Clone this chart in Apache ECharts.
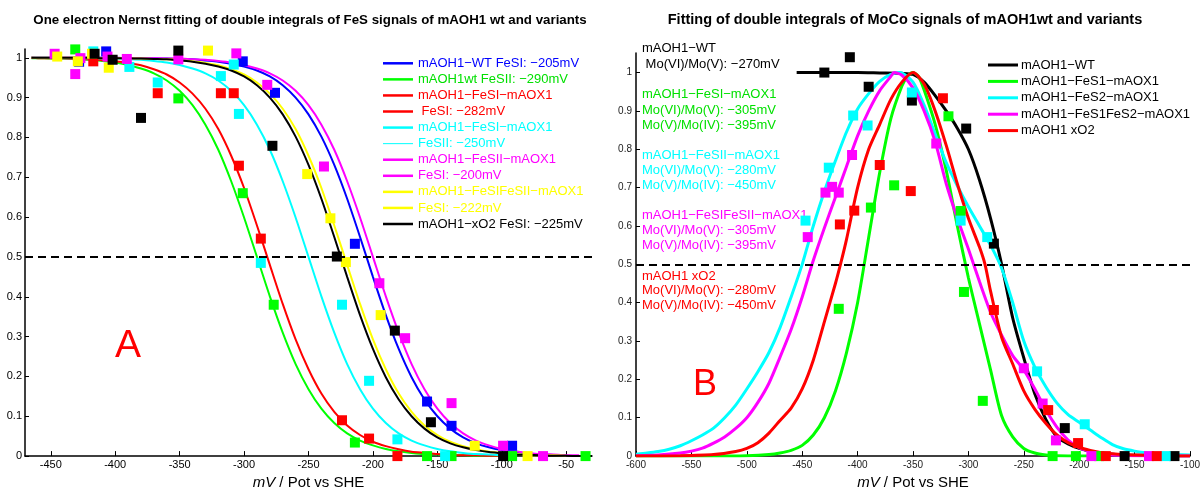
<!DOCTYPE html>
<html>
<head>
<meta charset="utf-8">
<script src="https://cdn.jsdelivr.net/npm/echarts@6/dist/echarts.min.js"></script>
<style>
  html, body { margin: 0; padding: 0; background: #fff; }
  #chart { width: 1203px; height: 495px; }
</style>
</head>
<body>
<div id="chart"></div>
<script>
// ---------- Panel A: FeS one-electron Nernst fits ----------
const fesPot = [-465, -460, -450, -440, -430, -420, -410, -400, -390, -380, -370, -360, -350, -340, -330,
  -320, -310, -300, -290, -280, -270, -260, -250, -240, -230, -220, -210, -200, -190, -180, -170, -160,
  -150, -140, -130, -120, -110, -100, -90, -80, -70, -60, -50, -40, -30];

const fesFitWT = [1, 1, 1, 1, 1, 1, 1, 1, 0.999, 0.999, 0.999, 0.998, 0.997, 0.996, 0.993, 0.990, 0.985,
  0.978, 0.968, 0.953, 0.931, 0.900, 0.858, 0.802, 0.731, 0.646, 0.550, 0.450, 0.354, 0.269, 0.198, 0.142,
  0.100, 0.069, 0.047, 0.032, 0.022, 0.015, 0.010, 0.007, 0.004, 0.003, 0.002];
const fesFitWtFeSII = [0.999, 0.999, 0.998, 0.998, 0.996, 0.995, 0.992, 0.988, 0.982, 0.973, 0.961, 0.943,
  0.917, 0.881, 0.832, 0.769, 0.690, 0.599, 0.500, 0.401, 0.310, 0.231, 0.168, 0.119, 0.083, 0.057, 0.039,
  0.027, 0.018, 0.012, 0.008, 0.005, 0.004, 0.002, 0.002, 0.001, 0.001, 0];
const fesFitFeSIAOX = [1, 0.999, 0.999, 0.998, 0.997, 0.996, 0.994, 0.991, 0.987, 0.981, 0.971, 0.958,
  0.938, 0.910, 0.872, 0.821, 0.754, 0.673, 0.579, 0.480, 0.382, 0.293, 0.218, 0.157, 0.111, 0.077, 0.053,
  0.036, 0.025, 0.017, 0.011, 0.008, 0.005, 0.003, 0.002, 0.002, 0.001, 0.001];
const fesFitFeSIIAOX = [1, 1, 1, 0.999, 0.999, 0.999, 0.998, 0.998, 0.996, 0.995, 0.992, 0.988, 0.982,
  0.973, 0.961, 0.943, 0.917, 0.881, 0.832, 0.769, 0.690, 0.599, 0.500, 0.401, 0.310, 0.231, 0.168, 0.119,
  0.083, 0.057, 0.039, 0.027, 0.018, 0.012, 0.008, 0.005, 0.004, 0.002, 0.002];
const fesFitFeSIIAOXm = [1, 1, 1, 1, 1, 1, 1, 1, 0.999, 0.999, 0.999, 0.998, 0.998, 0.996, 0.995, 0.992,
  0.988, 0.982, 0.973, 0.961, 0.943, 0.917, 0.881, 0.832, 0.769, 0.690, 0.599, 0.500, 0.401, 0.310, 0.231,
  0.168, 0.119, 0.083, 0.057, 0.039, 0.027, 0.018, 0.012, 0.008, 0.005, 0.004, 0.002, 0.002];
const fesFitFeSIFeSII = [1, 1, 1, 1, 1, 1, 0.999, 0.999, 0.999, 0.998, 0.997, 0.996, 0.994, 0.991, 0.987,
  0.981, 0.971, 0.958, 0.938, 0.910, 0.872, 0.821, 0.754, 0.673, 0.579, 0.480, 0.382, 0.293, 0.218, 0.157,
  0.111, 0.077, 0.053, 0.036, 0.025, 0.017, 0.011, 0.008, 0.005, 0.003, 0.002, 0.002, 0.001];
const fesFitXO2 = [1, 1, 1, 1, 1, 1, 0.999, 0.999, 0.999, 0.998, 0.997, 0.996, 0.993, 0.990, 0.985, 0.978,
  0.968, 0.953, 0.931, 0.900, 0.858, 0.802, 0.731, 0.646, 0.550, 0.450, 0.354, 0.269, 0.198, 0.142, 0.100,
  0.069, 0.047, 0.032, 0.022, 0.015, 0.010, 0.007, 0.004, 0.003, 0.002, 0.001, 0.001, 0, 0];

// measured double integrals [potential mV, normalised intensity]
const fesDotsWT = [[-428, 0.99], [-407, 1.016], [-301, 0.991], [-276, 0.912], [-214, 0.533], [-158, 0.137],
  [-139, 0.076], [-92, 0.026]];
const fesDotsWtFeSII = [[-431, 1.021], [-351, 0.898], [-301, 0.66], [-277, 0.38], [-214, 0.034], [-158, 0],
  [-139, 0], [-92, 0], [-35, 0]];
const fesDotsFeSIAOX = [[-417, 0.991], [-367, 0.911], [-318, 0.911], [-308, 0.911], [-304, 0.729],
  [-287, 0.546], [-224, 0.09], [-203, 0.044], [-181, 0]];
const fesDotsFeSIIAOX = [[-417, 1.016], [-389, 0.977], [-367, 0.938], [-318, 0.954], [-308, 0.983],
  [-304, 0.859], [-287, 0.485], [-224, 0.38], [-203, 0.189], [-181, 0.042], [-144, 0]];
const fesDotsFeSIIAOXm = [[-447, 1.01], [-431, 0.959], [-427, 0.999], [-406, 1.003], [-391, 0.997],
  [-351, 0.996], [-306, 1.011], [-282, 0.932], [-238, 0.727], [-195, 0.434], [-175, 0.296], [-139, 0.133],
  [-99, 0.026], [-68, 0]];
const fesDotsFeSIFeSII = [[-445, 1.003], [-429, 0.991], [-418, 1.01], [-405, 0.975], [-328, 1.018],
  [-251, 0.708], [-233, 0.597], [-221, 0.487], [-194, 0.354], [-121, 0.026], [-80, 0]];
const fesDotsXO2 = [[-416, 1.01], [-402, 0.995], [-380, 0.849], [-351, 1.018], [-278, 0.779], [-228, 0.501],
  [-183, 0.315], [-155, 0.085], [-99, 0]];

const fesTicksX = [-450, -400, -350, -300, -250, -200, -150, -100, -50];
const fesTicksY = [0, 0.1, 0.2, 0.3, 0.4, 0.5, 0.6, 0.7, 0.8, 0.9, 1];

const fesLegendLabels = ['mAOH1\u2212WT FeSI: \u2212205mV', 'mAOH1wt FeSII: \u2212290mV', 'mAOH1\u2212FeSI\u2212mAOX1',
  ' FeSI: \u2212282mV', 'mAOH1\u2212FeSI\u2212mAOX1', 'FeSII: \u2212250mV', 'mAOH1\u2212FeSII\u2212mAOX1',
  'FeSI: \u2212200mV', 'mAOH1\u2212FeSIFeSII\u2212mAOX1', 'FeSI: \u2212222mV', 'mAOH1\u2212xO2 FeSI: \u2212225mV'];

// ---------- Panel B: MoCo fits ----------
const mocoPotWT = [-455, -420, -400, -380, -360, -350, -340, -330, -320, -310, -300, -290, -280, -270, -260,
  -250, -240, -230, -220, -210, -200, -190, -180, -170, -160, -140, -120, -100];
const mocoFitWT = [1, 1, 1, 0.999, 0.998, 0.995, 0.975, 0.94, 0.9, 0.855, 0.8, 0.72, 0.62, 0.5, 0.36, 0.256,
  0.162, 0.095, 0.05, 0.032, 0.02, 0.012, 0.007, 0.005, 0.003, 0.002, 0.001, 0];

const mocoPotFeS1 = [-600, -530, -500, -480, -470, -460, -450, -440, -430, -420, -410, -400, -390, -380, -370,
  -360, -355, -350, -345, -340, -330, -320, -310, -300, -290, -280, -270, -260, -250, -240, -230, -220, -200, -180];
const mocoFitFeS1 = [0, 0, 0.001, 0.004, 0.008, 0.015, 0.028, 0.055, 0.1, 0.17, 0.27, 0.4, 0.57, 0.74, 0.88,
  0.965, 0.99, 1.0, 0.99, 0.955, 0.865, 0.745, 0.6, 0.465, 0.345, 0.225, 0.105, 0.05, 0.02, 0.008, 0.003,
  0.001, 0, 0];

const mocoPotFeS2 = [-600, -590, -580, -570, -560, -550, -540, -530, -520, -510, -500, -490, -480, -470, -460,
  -450, -440, -430, -420, -410, -400, -390, -380, -370, -362, -350, -340, -330, -320, -310, -300, -290, -280,
  -270, -260, -250, -240, -230, -220, -210, -200, -190, -180, -170, -160, -150, -140, -120, -100];
const mocoFitFeS2 = [0.005, 0.008, 0.012, 0.018, 0.027, 0.04, 0.055, 0.073, 0.1, 0.133, 0.175, 0.22, 0.27,
  0.335, 0.415, 0.5, 0.6, 0.69, 0.77, 0.845, 0.905, 0.945, 0.977, 0.995, 1.0, 0.975, 0.915, 0.84, 0.765, 0.705,
  0.65, 0.6, 0.55, 0.49, 0.4, 0.3, 0.232, 0.18, 0.138, 0.108, 0.088, 0.068, 0.048, 0.03, 0.019, 0.013, 0.009,
  0.005, 0.003];

const mocoPotFeS12 = [-600, -580, -560, -550, -540, -530, -520, -510, -500, -490, -480, -470, -460, -450, -440,
  -430, -420, -410, -400, -390, -380, -370, -367, -360, -350, -340, -330, -320, -310, -300, -290, -280, -270,
  -260, -250, -240, -230, -220, -210, -200, -190, -180, -170, -150, -100];
const mocoFitFeS12 = [0.001, 0.003, 0.008, 0.013, 0.021, 0.034, 0.05, 0.072, 0.1, 0.14, 0.19, 0.258, 0.33,
  0.415, 0.51, 0.595, 0.675, 0.755, 0.835, 0.9, 0.953, 0.99, 1.0, 0.993, 0.96, 0.9, 0.82, 0.71, 0.62, 0.54,
  0.455, 0.375, 0.315, 0.262, 0.225, 0.175, 0.12, 0.075, 0.042, 0.022, 0.012, 0.006, 0.003, 0.001, 0];

const mocoPotXO2 = [-600, -560, -530, -510, -500, -490, -480, -470, -460, -450, -440, -430, -420, -415, -410,
  -400, -390, -380, -370, -360, -350, -340, -330, -320, -310, -300, -290, -285, -280, -270, -260, -250, -240,
  -230, -220, -210, -200, -190, -180, -170, -160, -150, -125, -100];
const mocoFitXO2 = [0, 0.001, 0.004, 0.012, 0.02, 0.035, 0.06, 0.093, 0.125, 0.175, 0.25, 0.35, 0.45, 0.505,
  0.565, 0.70, 0.80, 0.865, 0.93, 0.975, 1.0, 0.97, 0.90, 0.81, 0.71, 0.62, 0.545, 0.5, 0.43, 0.31, 0.24, 0.17,
  0.122, 0.085, 0.055, 0.035, 0.023, 0.015, 0.009, 0.006, 0.004, 0.003, 0.001, 0];

const mocoDotsWT = [[-430, 1.0], [-407, 1.04], [-390, 0.963], [-351, 0.927], [-302, 0.854], [-277, 0.554],
  [-213, 0.073], [-159, 0], [-114, 0]];
const mocoDotsFeS1 = [[-417, 0.384], [-388, 0.648], [-367, 0.706], [-318, 0.886], [-307, 0.639], [-304, 0.428],
  [-287, 0.144], [-224, 0], [-203, 0], [-182, 0]];
const mocoDotsFeS2 = [[-447, 0.614], [-426, 0.752], [-404, 0.888], [-391, 0.862], [-351, 0.948], [-307, 0.614],
  [-283, 0.571], [-238, 0.221], [-195, 0.083], [-122, 0]];
const mocoDotsFeS12 = [[-445, 0.571], [-429, 0.687], [-423, 0.702], [-417, 0.687], [-405, 0.785], [-329, 0.815],
  [-250, 0.229], [-233, 0.137], [-221, 0.041], [-189, 0], [-137, 0]];
const mocoDotsXO2 = [[-416, 0.604], [-403, 0.64], [-380, 0.759], [-352, 0.691], [-323, 0.933], [-277, 0.381],
  [-228, 0.12], [-201, 0.034], [-176, 0], [-130, 0]];

const mocoTicksX = [-600, -550, -500, -450, -400, -350, -300, -250, -200, -150, -100];
const mocoTicksY = [0, 0.1, 0.2, 0.3, 0.4, 0.5, 0.6, 0.7, 0.8, 0.9, 1];

const mocoLegendLabels = ['mAOH1\u2212WT', 'mAOH1\u2212FeS1\u2212mAOX1', 'mAOH1\u2212FeS2\u2212mAOX1',
  'mAOH1\u2212FeS1FeS2\u2212mAOX1', 'mAOH1 xO2'];

const mocoNoteLines = [
  ['mAOH1\u2212WT', ' Mo(VI)/Mo(V): \u2212270mV'],
  ['mAOH1\u2212FeSI\u2212mAOX1', 'Mo(VI)/Mo(V): \u2212305mV', 'Mo(V)/Mo(IV): \u2212395mV'],
  ['mAOH1\u2212FeSII\u2212mAOX1', 'Mo(VI)/Mo(V): \u2212280mV', 'Mo(V)/Mo(IV): \u2212450mV'],
  ['mAOH1\u2212FeSIFeSII\u2212mAOX1', 'Mo(VI)/Mo(V): \u2212305mV', 'Mo(V)/Mo(IV): \u2212395mV'],
  ['mAOH1 xO2', 'Mo(VI)/Mo(V): \u2212280mV', 'Mo(V)/Mo(IV): \u2212450mV']
];

// ---------- styling ----------
const FONT = '"Liberation Sans", Arial, Helvetica, sans-serif';
const C = { blue: '#0000ff', green: '#00ff00', red: '#ff0000', cyan: '#00ffff',
  magenta: '#ff00ff', yellow: '#ffff00', black: '#000000' };
const greenText = '#00e000';

function curve(pot, vals, color, width, idx) {
  return {
    type: 'line', xAxisIndex: idx, yAxisIndex: idx,
    data: vals.map((v, i) => [pot[i], v]),
    showSymbol: false, symbol: 'none', smooth: 0.25,
    lineStyle: { color: color, width: width }, itemStyle: { color: color },
    silent: true, z: 2
  };
}
function dots(pts, color, idx, size) {
  return {
    type: 'scatter', xAxisIndex: idx, yAxisIndex: idx, data: pts,
    symbol: 'rect', symbolSize: size, itemStyle: { color: color, opacity: 1 },
    silent: true, clip: false, z: 3
  };
}
const halfLine = {
  silent: true, symbol: 'none', label: { show: false },
  lineStyle: { color: '#000', width: 2, type: [8, 5] },
  data: [{ yAxis: 0.5 }]
};

const series = [];
const lw = 2;
const sA0 = curve(fesPot, fesFitWT, C.blue, lw, 0);
sA0.markLine = halfLine;
series.push(sA0,
  curve(fesPot, fesFitWtFeSII, C.green, lw, 0),
  curve(fesPot, fesFitFeSIAOX, C.red, lw, 0),
  curve(fesPot, fesFitFeSIIAOX, C.cyan, lw, 0),
  curve(fesPot, fesFitFeSIIAOXm, C.magenta, lw, 0),
  curve(fesPot, fesFitFeSIFeSII, C.yellow, lw, 0),
  curve(fesPot, fesFitXO2, C.black, lw, 0),
  dots(fesDotsWT, C.blue, 0, 10),
  dots(fesDotsWtFeSII, C.green, 0, 10),
  dots(fesDotsFeSIAOX, C.red, 0, 10),
  dots(fesDotsFeSIIAOX, C.cyan, 0, 10),
  dots(fesDotsFeSIIAOXm, C.magenta, 0, 10),
  dots(fesDotsFeSIFeSII, C.yellow, 0, 10),
  dots(fesDotsXO2, C.black, 0, 10)
);
const mw = 3;
const sB0 = curve(mocoPotWT, mocoFitWT, C.black, mw, 1);
sB0.markLine = halfLine;
series.push(sB0,
  curve(mocoPotFeS1, mocoFitFeS1, C.green, mw, 1),
  curve(mocoPotFeS2, mocoFitFeS2, C.cyan, mw, 1),
  curve(mocoPotFeS12, mocoFitFeS12, C.magenta, mw, 1),
  curve(mocoPotXO2, mocoFitXO2, C.red, mw, 1),
  dots(mocoDotsWT, C.black, 1, 10),
  dots(mocoDotsFeS1, C.green, 1, 10),
  dots(mocoDotsFeS2, C.cyan, 1, 10),
  dots(mocoDotsFeS12, C.magenta, 1, 10),
  dots(mocoDotsXO2, C.red, 1, 10)
);

function xAxis(idx, min, max, ticks, labelSize, labelColor, gap, margin) {
  return {
    gridIndex: idx, type: 'value', min: min, max: max,
    axisLine: { onZero: false, lineStyle: { color: '#000', width: 1.5 } },
    axisTick: { inside: true, length: 5, customValues: ticks, lineStyle: { color: '#000' } },
    axisLabel: { customValues: ticks, fontSize: labelSize, color: labelColor, fontFamily: FONT, margin: margin },
    splitLine: { show: false },
    name: '{i|mV} / Pot vs SHE', nameLocation: 'middle', nameGap: gap,
    nameTextStyle: { fontSize: 15, color: '#000', fontFamily: FONT,
      rich: { i: { fontStyle: 'italic', fontSize: 15, fontFamily: FONT, color: '#000' } } }
  };
}
function yAxis(idx, max, ticks, labelSize, labelColor, margin) {
  return {
    gridIndex: idx, type: 'value', min: 0, max: max,
    axisLine: { show: true, onZero: false, lineStyle: { color: '#000', width: 1.5 } },
    axisTick: { show: true, inside: true, length: 4, customValues: ticks, lineStyle: { color: '#000' } },
    axisLabel: { customValues: ticks, fontSize: labelSize, color: labelColor, fontFamily: FONT, margin: margin },
    splitLine: { show: false }
  };
}

// titles, legends and annotations
const graphic = [];
graphic.push({ type: 'text', x: 310, y: 20, style: {
  text: 'One electron Nernst fitting of double integrals of FeS signals of mAOH1 wt and variants',
  font: 'bold 13.3px ' + FONT, fill: '#000', align: 'center', verticalAlign: 'middle' } });
graphic.push({ type: 'text', x: 905, y: 20, style: {
  text: 'Fitting of double integrals of MoCo signals of mAOH1wt and variants',
  font: 'bold 14.5px ' + FONT, fill: '#000', align: 'center', verticalAlign: 'middle' } });

const fesLegendColors = [C.blue, C.green, C.red, C.red, C.cyan, C.cyan, C.magenta, C.magenta, C.yellow, C.yellow, C.black];
const fesLegendText = [C.blue, greenText, C.red, C.red, C.cyan, C.cyan, C.magenta, C.magenta, C.yellow, C.yellow, C.black];
fesLegendLabels.forEach((t, i) => {
  const y = 63.3 + i * 16.07;
  graphic.push({ type: 'line', shape: { x1: 383, y1: y, x2: 413, y2: y },
    style: { stroke: fesLegendColors[i], lineWidth: i === 5 ? 1 : 2.5 } });
  graphic.push({ type: 'text', x: 418, y: y, style: { text: t, font: '13px ' + FONT,
    fill: fesLegendText[i], verticalAlign: 'middle' } });
});

const mocoLegendColors = [C.black, C.green, C.cyan, C.magenta, C.red];
mocoLegendLabels.forEach((t, i) => {
  const y = 65 + i * 16.4;
  graphic.push({ type: 'line', shape: { x1: 988, y1: y, x2: 1018, y2: y },
    style: { stroke: mocoLegendColors[i], lineWidth: 3 } });
  graphic.push({ type: 'text', x: 1021, y: y, style: { text: t, font: '13px ' + FONT,
    fill: '#000', verticalAlign: 'middle' } });
});

const noteColors = ['#000', greenText, C.cyan, C.magenta, C.red];
const noteRows = [[48.5, 64], [94.5, 110, 125], [155, 170, 185], [215, 230.5, 245.5], [276, 290.5, 305.5]];
mocoNoteLines.forEach((block, b) => {
  block.forEach((t, j) => {
    graphic.push({ type: 'text', x: 642, y: noteRows[b][j], style: { text: t, font: '13px ' + FONT,
      fill: noteColors[b], verticalAlign: 'middle' } });
  });
});

graphic.push({ type: 'text', x: 128, y: 346, style: { text: 'A', font: '39px ' + FONT,
  fill: C.red, align: 'center', verticalAlign: 'middle' } });
graphic.push({ type: 'text', x: 705, y: 385, style: { text: 'B', font: '36px ' + FONT,
  fill: C.red, align: 'center', verticalAlign: 'middle' } });

const chart = echarts.init(document.getElementById('chart'), null, { renderer: 'canvas' });
chart.setOption({
  animation: false,
  backgroundColor: '#fff',
  grid: [
    { left: 25, top: 49, width: 567, height: 419 },
    { left: 636, top: 53, width: 559, height: 409 }
  ],
  xAxis: [
    xAxis(0, -470, -30, fesTicksX, 11, '#000', 15, 3),
    xAxis(1, -600, -100, mocoTicksX, 10, '#222', 15, 4)
  ],
  yAxis: [
    yAxis(0, 1.022, fesTicksY, 11, '#000', 3),
    yAxis(1, 1.051, mocoTicksY, 10, '#222', 4)
  ],
  series: series,
  graphic: graphic
});
</script>
</body>
</html>
